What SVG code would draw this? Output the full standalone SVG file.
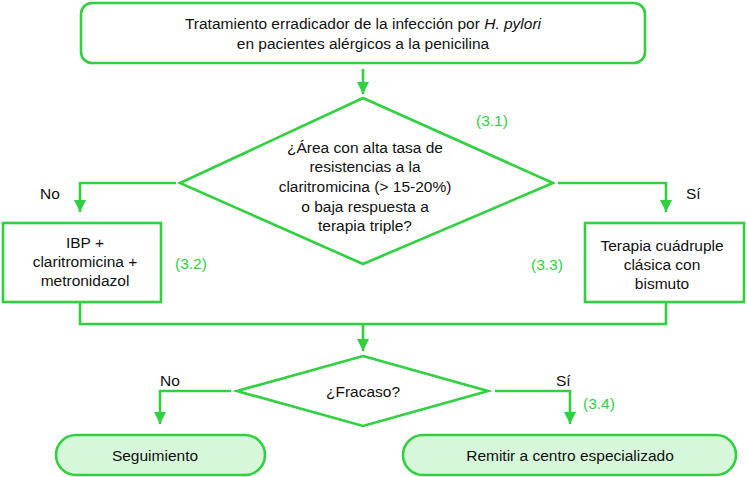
<svg xmlns="http://www.w3.org/2000/svg" width="747" height="477" viewBox="0 0 747 477">
<defs>
<style>
.s{fill:#fff;stroke:#2fd13f;stroke-width:2.6}
.t{fill:#d6f7da;stroke:#2fd13f;stroke-width:2.6}
.c{fill:none;stroke:#2fd13f;stroke-width:2.6}
text{font-family:"Liberation Sans",Arial,Helvetica,sans-serif;font-size:15.5px;fill:#111}
.m{text-anchor:middle}
.g{fill:#2fd13f}
</style>
<marker id="ah" viewBox="0 0 12 12" refX="12" refY="6" markerWidth="12" markerHeight="12" markerUnits="userSpaceOnUse" orient="auto">
<path d="M0,0 L12,6 L0,12 Z" fill="#2fd13f"/>
</marker>
</defs>
<rect width="747" height="477" fill="#fff"/>
<g id="connectors">
<path class="c" d="M363,69 V94" marker-end="url(#ah)"/>
<path class="c" d="M176,183 H80 V212" marker-end="url(#ah)"/>
<path class="c" d="M558,183 H666 V212" marker-end="url(#ah)"/>
<path class="c" d="M80,302 V324 H666 V302"/>
<path class="c" d="M363,324 V351" marker-end="url(#ah)"/>
<path class="c" d="M231,391 H160 V424" marker-end="url(#ah)"/>
<path class="c" d="M495,391 H570 V424" marker-end="url(#ah)"/>
</g>
<g id="n1">
<rect class="s" x="81" y="3" width="564" height="60" rx="11"/>
<text class="m" x="363" y="29">Tratamiento erradicador de la infección por <tspan font-style="italic">H. pylori</tspan></text>
<text class="m" x="363" y="49">en pacientes alérgicos a la penicilina</text>
</g>
<g id="d1">
<polygon class="s" points="363,98 553,183 363,264 180,183"/>
<text class="m" x="365" y="153">¿Área con alta tasa de</text>
<text class="m" x="365" y="172">resistencias a la</text>
<text class="m" x="365" y="192">claritromicina (&gt; 15-20%)</text>
<text class="m" x="365" y="212">o baja respuesta a</text>
<text class="m" x="365" y="231">terapia triple?</text>
<text class="g" x="476" y="126">(3.1)</text>
</g>
<text x="40" y="199">No</text>
<text x="686" y="199">Sí</text>
<g id="b1">
<rect class="s" x="3" y="223" width="158" height="79"/>
<text class="m" x="85" y="248">IBP +</text>
<text class="m" x="85" y="267">claritromicina +</text>
<text class="m" x="85" y="286">metronidazol</text>
<text class="g" x="175" y="269">(3.2)</text>
</g>
<g id="b2">
<rect class="s" x="585" y="223" width="159" height="79"/>
<text class="m" x="662" y="251">Terapia cuádruple</text>
<text class="m" x="662" y="270">clásica con</text>
<text class="m" x="662" y="289">bismuto</text>
<text class="g" x="531" y="270">(3.3)</text>
</g>
<g id="d2">
<polygon class="s" points="363,356 488,391 363,426 237,391"/>
<text class="m" x="363" y="397">¿Fracaso?</text>
</g>
<text x="160" y="386">No</text>
<text x="556" y="386">Sí</text>
<text class="g" x="583" y="409">(3.4)</text>
<g id="e1">
<rect class="t" x="56" y="435" width="209" height="40" rx="20"/>
<text class="m" x="155" y="461">Seguimiento</text>
</g>
<g id="e2">
<rect class="t" x="403" y="435" width="333" height="40" rx="20"/>
<text class="m" x="570" y="461">Remitir a centro especializado</text>
</g>
</svg>
